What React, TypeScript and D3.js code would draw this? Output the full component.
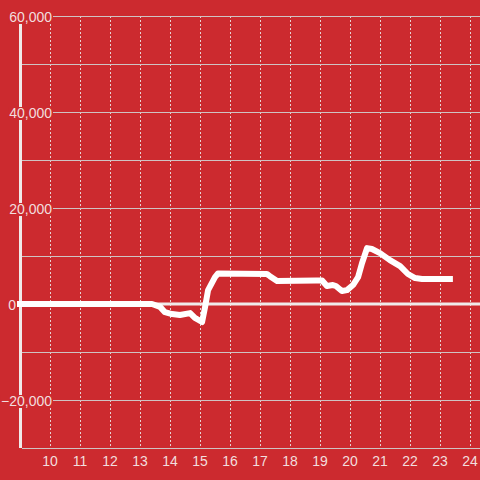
import React from "react";
import * as d3 from "d3";

const xValues = [9, 13.4, 13.67, 13.83, 14.07, 14.33, 14.67, 14.83, 15.07, 15.17, 15.27, 15.5, 15.6, 17.23, 17.33, 17.57, 18.87, 19.07, 19.23, 19.43, 19.53, 19.73, 19.9, 20.1, 20.27, 20.4, 20.57, 20.73, 21.0, 21.33, 21.67, 21.93, 22.17, 22.4, 23.33];
const yValues = [0, 0, -600, -1700, -2100, -2300, -1900, -2900, -3750, -600, 2900, 5600, 6350, 6250, 5800, 4800, 4900, 4900, 3750, 3950, 3750, 2700, 2900, 3950, 5600, 8500, 11650, 11450, 10600, 9150, 7900, 6250, 5400, 5200, 5200];
const xTicks = [10, 11, 12, 13, 14, 15, 16, 17, 18, 19, 20, 21, 22, 23, 24];
const yTicks = [-30000, -20000, -10000, 0, 10000, 20000, 30000, 40000, 50000, 60000];
const yLabelTicks = [-20000, 0, 20000, 40000, 60000];

const W = 480;
const H = 480;
const BG = "#cc2a2f";
const TXT = "#f2dede";

export default function App() {
  const x = d3.scaleLinear().domain([9, 24 + 1 / 3]).range([20, 480]);
  const y = d3.scaleLinear().domain([-30000, 60000]).range([448, 16]);
  const fmt = d3.format(",");
  const pts: [number, number][] = xValues.map((v, i) => [v, yValues[i]]);
  const line = d3
    .line<[number, number]>()
    .x((d) => x(d[0]))
    .y((d) => y(d[1]))
    .curve(d3.curveLinear);

  const textW = (s: string) => {
    let w = 0;
    for (const c of s) w += c === "," ? 3.9 : c === "-" ? 4.7 : 7.8;
    return w;
  };

  return (
    <svg
      width={W}
      height={H}
      style={{ position: "absolute", left: 0, top: 0, display: "block" }}
      fontFamily="'Liberation Sans', Arial, sans-serif"
    >
      <rect x={0} y={0} width={W} height={H} fill={BG} />
      {xTicks.map((t) => (
        <line
          key={"vx" + t}
          x1={Math.round(x(t)) + 0.5}
          x2={Math.round(x(t)) + 0.5}
          y1={y(60000)}
          y2={y(-30000)}
          stroke="#e6d2d2"
          strokeWidth={1}
          strokeDasharray="2,2"
        />
      ))}
      {yTicks.map((t) => {
        if (t === 0) return null;
        const labeled = yLabelTicks.includes(t);
        return (
          <line
            key={"hy" + t}
            x1={labeled ? 53 : 22}
            x2={W}
            y1={Math.round(y(t)) + 0.5}
            y2={Math.round(y(t)) + 0.5}
            stroke="#cfc3c3"
            strokeWidth={1}
          />
        );
      })}
      <line x1={20.5} x2={20.5} y1={y(60000)} y2={y(-30000)} stroke="#f0eaea" strokeWidth={3} />
      <line x1={20} x2={W} y1={y(0)} y2={y(0)} stroke="#f0eaea" strokeWidth={3} />
      {yLabelTicks.map((t) => {
        const s = fmt(t);
        const w = textW(s);
        const xe = t === 0 ? 16 : 52;
        const yy = y(t);
        return (
          <g key={"yl" + t}>
            <rect x={xe - w - 1} y={yy - 5} width={w + 2} height={13} fill={BG} />
            <text x={xe} y={yy + 5.5} textAnchor="end" fontSize={14} fill={TXT}>
              {s}
            </text>
          </g>
        );
      })}
      {xTicks.map((t) => (
        <text key={"xl" + t} x={x(t)} y={466} textAnchor="middle" fontSize={14} fill={TXT}>
          {t}
        </text>
      ))}
      <path
        d={line(pts) || ""}
        fill="none"
        stroke="#ffffff"
        strokeWidth={6}
        strokeLinejoin="round"
        strokeLinecap="square"
      />
    </svg>
  );
}
